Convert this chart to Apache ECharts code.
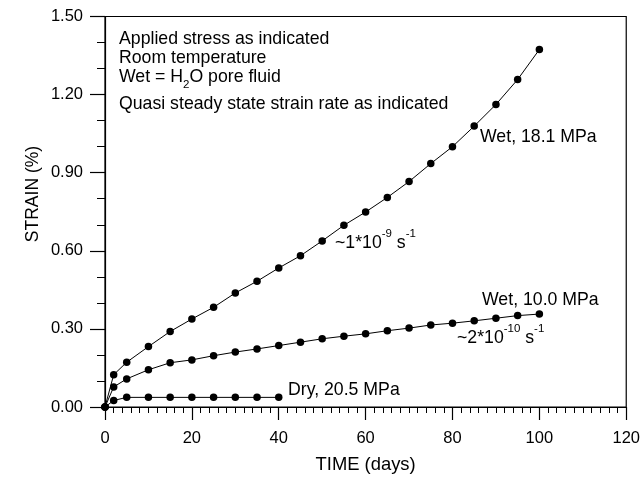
<!DOCTYPE html>
<html>
<head>
<meta charset="utf-8">
<script src="https://cdn.jsdelivr.net/npm/echarts@6/dist/echarts.min.js"></script>
<style>
  html, body { margin: 0; padding: 0; background: #fff; }
  #chart { width: 643px; height: 479px; }
</style>
</head>
<body>
<div id="chart"></div>
<script>
// Creep strain vs time for three specimens
const daysWet18 = [0, 2, 5, 10, 15, 20, 25, 30, 35, 40, 45, 50, 55, 60, 65, 70, 75, 80, 85, 90, 95, 100];
const strainWet18 = [0, 0.124, 0.172, 0.232, 0.290, 0.338, 0.383, 0.438, 0.483, 0.534, 0.581, 0.638, 0.698, 0.749, 0.805, 0.866, 0.935, 1.000, 1.079, 1.162, 1.258, 1.373];

const daysWet10 = [0, 2, 5, 10, 15, 20, 25, 30, 35, 40, 45, 50, 55, 60, 65, 70, 75, 80, 85, 90, 95, 100];
const strainWet10 = [0, 0.077, 0.108, 0.143, 0.170, 0.181, 0.197, 0.211, 0.223, 0.236, 0.249, 0.262, 0.272, 0.281, 0.293, 0.303, 0.315, 0.322, 0.331, 0.341, 0.351, 0.357];

const daysDry = [0, 2, 5, 10, 15, 20, 25, 30, 35, 40];
const strainDry = [0, 0.025, 0.037, 0.037, 0.037, 0.037, 0.037, 0.037, 0.037, 0.037];

const FONT = '"Liberation Sans", Arial, sans-serif';
const NOTE_SIZE = 17.7;

function pairs(xs, ys) { return xs.map((x, i) => [x, ys[i]]); }

function lineSeries(name, xs, ys) {
  return {
    name: name,
    type: 'line',
    data: pairs(xs, ys),
    symbol: 'circle',
    symbolSize: 7.5,
    showAllSymbol: true,
    lineStyle: { color: '#000', width: 1 },
    itemStyle: { color: '#000' },
    animation: false,
    z: 3
  };
}

// rich styles for super/subscripts
const rich = {
  n: { fontSize: NOTE_SIZE, fontFamily: FONT, color: '#000' },
  sup: { fontSize: 11.5, fontFamily: FONT, color: '#000', padding: [0, 0, 18, 0] },
  sub: { fontSize: 11.5, fontFamily: FONT, color: '#000', padding: [16, 0, 0, 0] }
};

// text anchored at its left edge and vertical middle
function note(x, cy, text) {
  return {
    type: 'text',
    x: x,
    y: cy,
    style: {
      text: text,
      rich: rich,
      font: NOTE_SIZE + 'px ' + FONT,
      fill: '#000',
      align: 'left',
      verticalAlign: 'middle'
    },
    z: 10
  };
}

const chart = echarts.init(document.getElementById('chart'), null, { renderer: 'canvas' });

chart.setOption({
  backgroundColor: '#fff',
  animation: false,
  grid: {
    left: 105, top: 16.5, right: 15.5, bottom: 70.7,
    show: true, borderColor: '#000', borderWidth: 1.2
  },
  xAxis: {
    type: 'value',
    min: 0, max: 120, interval: 20,
    name: 'TIME (days)',
    nameLocation: 'middle',
    nameGap: 49,
    nameTextStyle: { fontSize: 18.4, fontFamily: FONT, color: '#000' },
    axisLine: { show: true, onZero: false, lineStyle: { color: '#000', width: 1.2 } },
    axisTick: { show: true, inside: false, length: 13, lineStyle: { color: '#000', width: 1.2 } },
    minorTick: { show: true, splitNumber: 10, length: 6, lineStyle: { color: '#000', width: 1 } },
    splitLine: { show: false },
    axisLabel: { fontSize: 16.5, fontFamily: FONT, color: '#000', margin: 23 }
  },
  yAxis: {
    type: 'value',
    min: 0, max: 1.5, interval: 0.3,
    axisLine: { show: true, onZero: false, lineStyle: { color: '#000', width: 1.2 } },
    axisTick: { show: true, inside: false, length: 15, lineStyle: { color: '#000', width: 1.2 } },
    minorTick: { show: true, splitNumber: 3, length: 8, lineStyle: { color: '#000', width: 1 } },
    splitLine: { show: false },
    axisLabel: {
      fontSize: 16.5, fontFamily: FONT, color: '#000', margin: 22,
      formatter: v => v.toFixed(2)
    }
  },
  series: [
    lineSeries('Wet, 18.1 MPa', daysWet18, strainWet18),
    lineSeries('Wet, 10.0 MPa', daysWet10, strainWet10),
    lineSeries('Dry, 20.5 MPa', daysDry, strainDry)
  ],
  graphic: [
    {
      type: 'text',
      x: 33, y: 194,
      rotation: Math.PI / 2,
      style: {
        text: 'STRAIN (%)',
        font: '17.5px ' + FONT,
        fill: '#000',
        align: 'center',
        verticalAlign: 'middle'
      }
    },
    note(119, 39.3, '{n|Applied stress as indicated}'),
    note(119, 58.3, '{n|Room temperature}'),
    note(119, 77, '{n|Wet = H}{sub|2}{n|O pore fluid}'),
    note(119, 104, '{n|Quasi steady state strain rate as indicated}'),
    note(480, 136.7, '{n|Wet, 18.1 MPa}'),
    note(335, 242.7, '{n|~1*10}{sup|-9}{n| s}{sup|-1}'),
    note(482, 300.5, '{n|Wet, 10.0 MPa}'),
    note(457, 338.3, '{n|~2*10}{sup|-10}{n| s}{sup|-1}'),
    note(288, 390, '{n|Dry, 20.5 MPa}')
  ]
});
</script>
</body>
</html>
